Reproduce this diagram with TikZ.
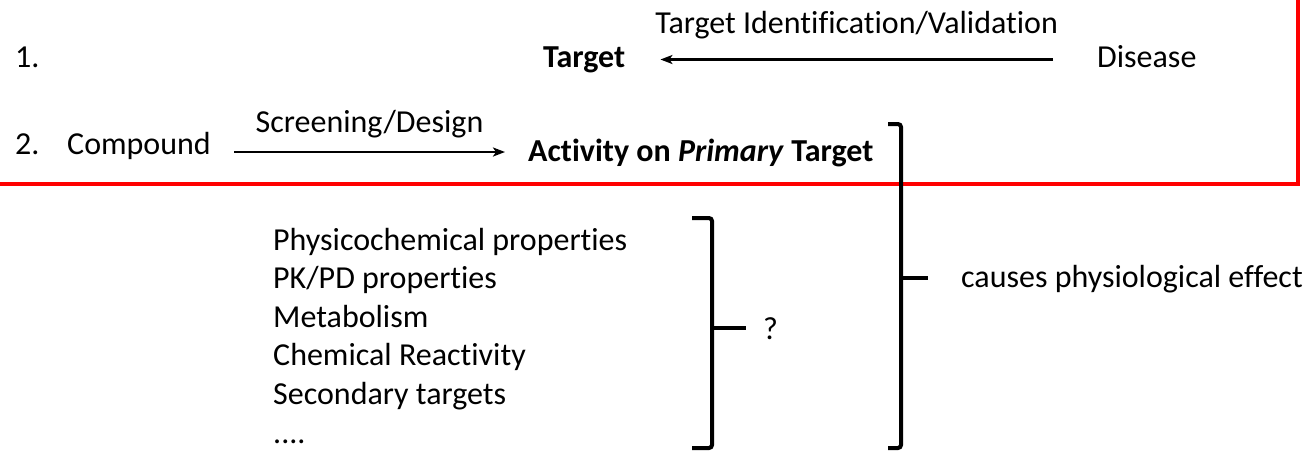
\documentclass[tikz,border=0pt]{standalone}
\usepackage{fontspec}
\setmainfont[Ligatures={NoCommon}]{Carlito}
\usetikzlibrary{arrows.meta, positioning}
\tikzstyle{lbl} = [inner sep=0pt, anchor=base west, font=\fontsize{32pt}{38pt}\selectfont, text height=22pt, text depth=7pt]
\tikzstyle{arrow} = [line width=2.5pt, -{Stealth[length=12pt, width=9pt, inset=3pt]}]
\tikzstyle{bracket} = [line width=4pt, rounded corners=3pt]
\tikzstyle{frame} = [draw=red, line width=4.5pt]

\begin{document}
\begin{tikzpicture}[x=1pt, y=-1pt] % pixel-like units, y going down
        \useasboundingbox (0,0) rectangle (1312,451);

        % Row 1: target identification
        \node (num1) [lbl] at (15,67) {1.};
        \node (target) [lbl] at (543,67) {\textbf{Target}};
        \node (disease) [lbl] at (1097,67) {Disease};

        % Row 2: screening
        \node (num2) [lbl] at (15,154) {2.};
        \node (compound) [lbl] at (67,154) {Compound};
        \node (activity) [lbl] at (528,161) {\textbf{Activity on \textit{Primary} Target}};

        % Arrows with their labels
        \draw [arrow] ([xshift=-44pt]disease.west) -- ([xshift=35pt]target.east)
            node[lbl, anchor=base, midway, yshift=26pt] (tiv) {Target Identification/Validation};
        \draw [arrow] ([xshift=23pt,yshift=-5.5pt]compound.east) -- ([xshift=-23pt,yshift=-5.5pt]activity.west |- compound.east)
            node[lbl, anchor=base, midway, yshift=20pt] (scr) {Screening/Design};

        % Red frame round rows 1 and 2 (runs off the top and left)
        \draw [frame] (-10,-10) rectangle (1298,184);

        % Property list
        \foreach \txt [count=\i] in {Physicochemical properties, PK/PD properties, Metabolism, Chemical Reactivity, Secondary targets, {{....}}}
            \node (prop\i) [lbl] at (273,{250+38.6*(\i-1)}) {\txt};

        % Small bracket to the question mark
        \node (qmark) [lbl] at (763,339) {?};
        \draw [bracket] (692,218) -- (712,218) -- (712,448) -- (692,448);
        \coordinate (smid) at (712,328);
        \draw [bracket] (smid) -- ++(34,0);

        % Big bracket to the effect
        \node (effect) [lbl] at (961,287) {causes physiological effect};
        \draw [bracket] (888,124) -- (901,124) -- (901,448) -- (888,448);
        \coordinate (bmid) at (901,278);
        \draw [bracket] (bmid) -- ++(27,0);

    \end{tikzpicture}
\end{document}
